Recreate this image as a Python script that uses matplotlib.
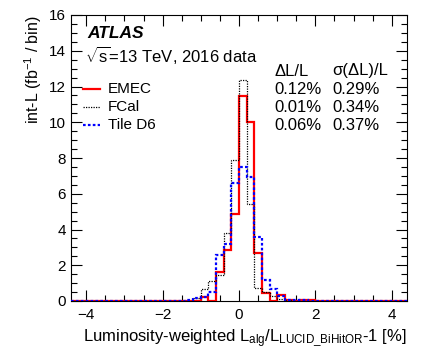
import numpy as np
import matplotlib
matplotlib.use("Agg")
import matplotlib.pyplot as plt
from matplotlib.ticker import MultipleLocator

plt.rcParams['font.family'] = ['Liberation Sans', 'DejaVu Sans']
plt.rcParams['mathtext.fontset'] = 'custom'
plt.rcParams['mathtext.rm'] = 'Liberation Sans'
plt.rcParams['mathtext.it'] = 'Liberation Sans:italic'
plt.rcParams['mathtext.bf'] = 'Liberation Sans:bold'

# Binning: 0.2% bins over [-4.4, 4.4]; non-empty region from -1.4 to 2.0
x_min, x_max, bin_w = -4.4, 4.4, 0.2
core_lo, core_hi = -1.4, 2.0

# values for bins [-1.4,-1.2] ... [1.8,2.0]
emec = [0.0, 0.02, 0.25, 0.0, 1.65, 2.88, 4.85, 11.45, 10.0, 2.7, 0.45, 0.0, 0.33, 0.04, 0.02, 0.05, 0.03]
fcal = [0.02, 0.15, 0.69, 1.13, 1.43, 3.82, 7.9, 12.35, 5.45, 0.74, 0.5, 0.3, 0.1, 0.03, 0.02, 0.01, 0.0]
tile = [0.05, 0.18, 0.25, 0.5, 2.59, 3.21, 6.62, 7.5, 6.94, 3.58, 1.15, 0.65, 0.3, 0.08, 0.04, 0.03, 0.02]

labels = ["EMEC", "FCal", "Tile D6"]
dL = ["0.12%", "0.01%", "0.06%"]
sdL = ["0.29%", "0.34%", "0.37%"]

n_all = int(round((x_max - x_min) / bin_w))
edges = x_min + bin_w * np.arange(n_all + 1)
i0 = int(round((core_lo - x_min) / bin_w))

def full(vals):
    v = np.zeros(n_all)
    v[i0:i0 + len(vals)] = vals
    return v

W, H = 425, 362
fig = plt.figure(figsize=(W / 100, H / 100), dpi=100)
ax = fig.add_axes([71 / W, (H - 301) / H, 336 / W, 286 / H])

ax.stairs(full(emec), edges, color='#ff0000', lw=1.6, baseline=None, zorder=3)
ax.stairs(full(fcal), edges, color='black', lw=0.9, ls=(0, (1, 1)), baseline=None, zorder=4)
ax.stairs(full(tile), edges, color='#0000ff', lw=1.6, ls=(0, (1.2, 1.0)), baseline=None, zorder=5)

ax.set_xlim(x_min, x_max)
ax.set_ylim(0, 16)
ax.xaxis.set_major_locator(MultipleLocator(2))
ax.xaxis.set_minor_locator(MultipleLocator(0.5))
ax.yaxis.set_major_locator(MultipleLocator(2))
ax.yaxis.set_minor_locator(MultipleLocator(0.5))
ax.tick_params(which='both', direction='in', top=True, right=True, width=0.8, labelsize=11)
ax.tick_params(which='major', length=8)
ax.tick_params(which='minor', length=4)
ax.tick_params(axis='x', pad=5)
for s in ax.spines.values():
    s.set_linewidth(0.8)

ax.set_xlabel(r"Luminosity-weighted L$_{\rm alg}$/L$_{\rm LUCID\_BiHitOR}$-1 [%]", loc='right', fontsize=12)
ax.set_ylabel(r"int-L (fb$^{-1}$ / bin)", loc='top', fontsize=11.5)

def axx(px):
    return (px - 71) / 336

def axy(py):
    return (301 - py) / 286

ax.text(axx(87), axy(33), "ATLAS", fontsize=12.5, fontweight='bold', fontstyle='italic',
        transform=ax.transAxes, va='center', ha='left')
ax.text(axx(85), axy(55), r"$\sqrt{\rm s}$=13 TeV, 2016 data", fontsize=12,
        transform=ax.transAxes, va='center', ha='left')
ax.text(axx(275), axy(71), "ΔL/L", fontsize=12, transform=ax.transAxes, va='center', ha='left')
ax.text(axx(332), axy(71), "σ(ΔL)/L", fontsize=12, transform=ax.transAxes, va='center', ha='left')

rows_y = [89, 107, 125]
styles = [dict(color='#ff0000', lw=1.6, ls='-'),
          dict(color='black', lw=0.9, ls=(0, (1, 1))),
          dict(color='#0000ff', lw=1.6, ls=(0, (1.2, 1.0)))]
for lab, d, s, py, st in zip(labels, dL, sdL, rows_y, styles):
    ax.plot([axx(83), axx(100)], [axy(py), axy(py)], transform=ax.transAxes, **st)
    ax.text(axx(108), axy(py), lab, fontsize=11, transform=ax.transAxes, va='center', ha='left')
    ax.text(axx(274), axy(py), d, fontsize=12, transform=ax.transAxes, va='center', ha='left')
    ax.text(axx(332), axy(py), s, fontsize=12, transform=ax.transAxes, va='center', ha='left')

fig.savefig("out.png", dpi=100)
